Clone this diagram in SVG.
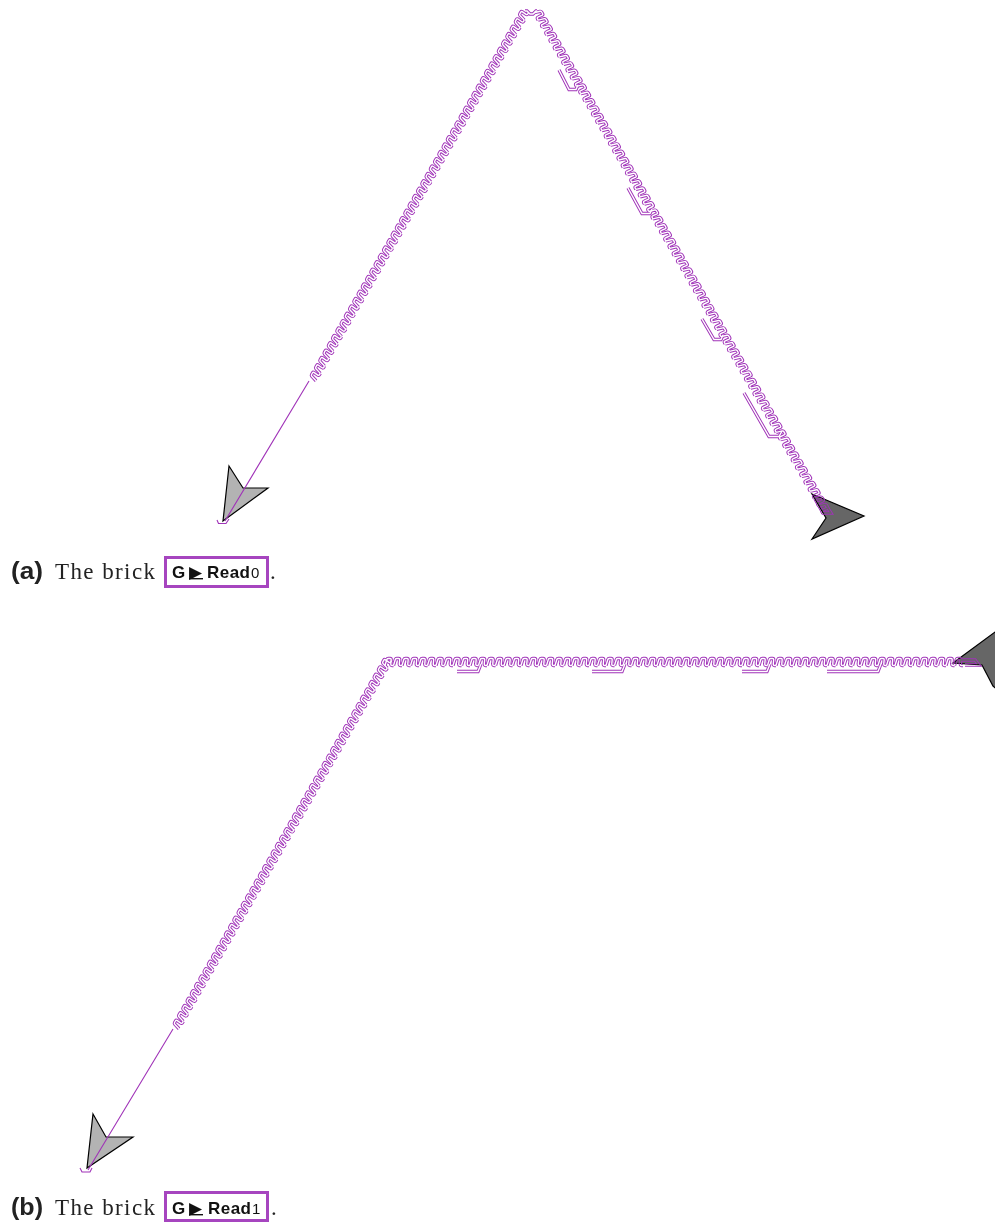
<svg xmlns="http://www.w3.org/2000/svg" xmlns:xlink="http://www.w3.org/1999/xlink" width="995" height="1224" viewBox="0 0 995 1224">
<style>
.cap{font-family:"Liberation Serif",serif;font-size:23px;fill:#222}
.tag{font-family:"Liberation Sans",Arial,sans-serif;font-weight:700;font-size:17px;fill:#111}
.dig{font-family:"Liberation Sans",Arial,sans-serif;font-size:15px;fill:#111}
.tri{font-family:"DejaVu Sans",sans-serif;font-size:17px;fill:#111}
.lab{font-family:"Liberation Sans",Arial,sans-serif;font-weight:700;font-size:23px;fill:#222}
.box{fill:#fff;stroke:#a645bf;stroke-width:3}
.hi{fill:#b3b3b3;stroke:#000;stroke-width:1.200}
.dk{fill:#666;stroke:#000;stroke-width:1.200}
.thin{fill:none;stroke:#a033b8;stroke-width:1.100}
.tk{fill:none;stroke-linejoin:miter}
.out{stroke:#a033b8;stroke-width:3.300}
.inn{stroke:#000;stroke-width:1.400}
</style>
<defs>
<path id="u" d="M0 3.500L1.800-2.500Q2.200-3.500 3.200-3.500H5.200Q6.200-3.500 6.200-2.500L5.800 1.800Q5.600 3.500 7 3.500H8.500"/>
<g id="w5"><use xlink:href="#u"/><use xlink:href="#u" x="8.5"/><use xlink:href="#u" x="17"/><use xlink:href="#u" x="25.5"/><use xlink:href="#u" x="34"/></g>
<g id="w25"><use xlink:href="#w5"/><use xlink:href="#w5" x="42.5"/><use xlink:href="#w5" x="85"/><use xlink:href="#w5" x="127.5"/><use xlink:href="#w5" x="170"/></g>
<g id="w50"><use xlink:href="#w25"/><use xlink:href="#w25" x="212.5"/></g>
<g id="w68"><use xlink:href="#w50"/><use xlink:href="#w5" x="425"/><use xlink:href="#w5" x="467.5"/><use xlink:href="#w5" x="510"/><use xlink:href="#u" x="552.5"/><use xlink:href="#u" x="561"/><use xlink:href="#u" x="569.5"/></g>
<g id="track">
<use xlink:href="#w50" transform="translate(313 379) rotate(-60)"/>
<path d="M525 11H527L530 14H533L536 11H537"/>
<use xlink:href="#w68" transform="translate(537 11) rotate(60)"/>
<path d="M559 70L569 89.500H576L578 85"/>
<path d="M628 188L642 213.500H650L652 209"/>
<path d="M702 319L714 339.500H721L723 335"/>
<path d="M744 393L769 436.500H779L782 431"/>
<path d="M815 499L823 513H831L826 505"/>
<use xlink:href="#w50" transform="translate(176 1027) rotate(-60)"/>
<use xlink:href="#w68" transform="translate(385 662)"/>
<path d="M457 671.500H478L481 664"/>
<path d="M592 671.500H622L625 664"/>
<path d="M742 671.500H767L770 664"/>
<path d="M827 671.500H878L881 664"/>
<path d="M960 660H975L979 665H965"/>
</g>
<mask id="hollow" maskUnits="userSpaceOnUse" x="0" y="0" width="995" height="1224">
<rect width="995" height="1224" fill="#fff"/>
<use xlink:href="#track" class="tk inn"/>
</mask>
</defs>
<g id="arrowheads">
<polygon id="start-a" class="hi" points="229,466 243,488 268,488 223,521"/>
<polygon id="end-a" class="dk" points="812,494 864,516 812,539 826,518"/>
<polygon id="start-b" class="hi" points="93,1114 106,1137 133,1137 87,1168"/>
<polygon id="end-b" class="dk" points="953,663 995,632 1000,632 1000,692 993,686 982,665"/>
</g>
<g id="connectors">
<path class="thin" d="M309 381L225 521M217 520L218.500 523.500H226L229 519"/>
<path class="thin" d="M173 1029L88 1170M80 1168L82 1172H90L92 1168"/>
<use xlink:href="#track" class="tk out" mask="url(#hollow)"/>
</g>
<g id="caption-a">
<text class="lab" x="11" y="579" textLength="32" lengthAdjust="spacingAndGlyphs">(a)</text>
<text class="cap" x="55" y="579" textLength="100" lengthAdjust="spacing">The brick</text>
<rect class="box" x="165.500" y="557.500" width="102" height="29"/>
<text class="tag" x="172" y="578">G</text>
<text class="tri" x="189" y="577.500">▶</text>
<path d="M189 578.700H203" stroke="#111" stroke-width="1.400"/>
<text class="tag" x="207" y="578" textLength="43">Read</text>
<text class="dig" x="251" y="578">0</text>
<text class="cap" x="270" y="579">.</text>
</g>
<g id="caption-b">
<text class="lab" x="11" y="1215" textLength="32" lengthAdjust="spacingAndGlyphs">(b)</text>
<text class="cap" x="55" y="1215" textLength="100" lengthAdjust="spacing">The brick</text>
<rect class="box" x="165.500" y="1192.500" width="102" height="28"/>
<text class="tag" x="172" y="1214">G</text>
<text class="tri" x="189" y="1213.500">▶</text>
<path d="M189 1214.700H203" stroke="#111" stroke-width="1.400"/>
<text class="tag" x="208" y="1214" textLength="43">Read</text>
<text class="dig" x="252" y="1214">1</text>
<text class="cap" x="271" y="1215">.</text>
</g>
</svg>
